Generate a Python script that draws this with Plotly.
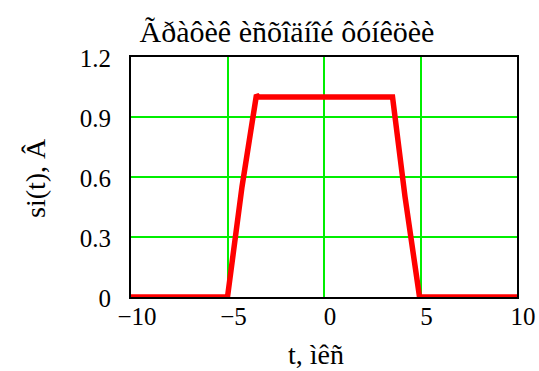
import plotly.graph_objects as go

# Trapezoidal source signal si(t)
t_vals = [-10, -5, -4.25, -3.5, -3.4, 3.55, 4.2, 4.95, 10]
si_vals = [0, 0, 0.55, 1.01, 1.0, 1.0, 0.5, 0, 0]

x_ticks = [-10, -5, 0, 5, 10]
x_tick_text = ["\u221210", "\u22125", "0", "5", "10"]
y_ticks = [0, 0.3, 0.6, 0.9, 1.2]
y_tick_text = ["0", "0.3", "0.6", "0.9", "1.2"]

title_text = "Ãðàôèê èñõîäíîé ôóíêöèè"
x_label = "t, ìêñ"
y_label = "si(t), Â"

serif = "Liberation Serif"
tick_font = dict(family=serif, size=25, color="black")
label_font = dict(family=serif, size=28, color="black")
title_font = dict(family=serif, size=30, color="black")

W, H = 539, 371
L, R, T, B = 131, 22, 57, 74
plot_w, plot_h = W - L - R, H - T - B

fig = go.Figure()
fig.add_trace(go.Scatter(
    x=t_vals, y=si_vals, mode="lines",
    line=dict(color="#ff0000", width=5.5),
    showlegend=False,
))

fig.update_layout(
    template="none",
    width=W, height=H,
    margin=dict(l=L, r=R, t=T, b=B, pad=0),
    paper_bgcolor="white", plot_bgcolor="white",
    font=tick_font,
    title=dict(text=title_text, x=287 / W, xanchor="center",
               y=1 - 31 / H, yanchor="middle", font=title_font),
)
fig.update_xaxes(
    range=[-10, 10], tickvals=x_ticks, ticktext=x_tick_text, tickfont=tick_font,
    showgrid=True, gridcolor="#00ee00", gridwidth=1.5,
    zeroline=False, showline=True, linecolor="black", linewidth=2, mirror=True,
    ticks="", ticklabelstandoff=-4, ticklabelshift=6,
)
fig.update_yaxes(
    range=[0, 1.2], tickvals=y_ticks, ticktext=y_tick_text, tickfont=tick_font,
    showgrid=True, gridcolor="#00ee00", gridwidth=1.5,
    zeroline=False, showline=True, linecolor="black", linewidth=2, mirror=True,
    ticks="", ticklabelstandoff=13, ticklabelshift=1,
)

# Axis titles placed as annotations
fig.add_annotation(
    text=x_label, font=label_font, showarrow=False,
    xref="paper", yref="paper",
    x=(316 - L) / plot_w, y=-(354 - (T + plot_h)) / plot_h,
    xanchor="center", yanchor="middle",
)
fig.add_annotation(
    text=y_label, font=label_font, showarrow=False, textangle=-90,
    xref="paper", yref="paper",
    x=(35 - L) / plot_w, y=(T + plot_h - 178) / plot_h,
    xanchor="center", yanchor="middle",
)

fig.write_html("out.html")
